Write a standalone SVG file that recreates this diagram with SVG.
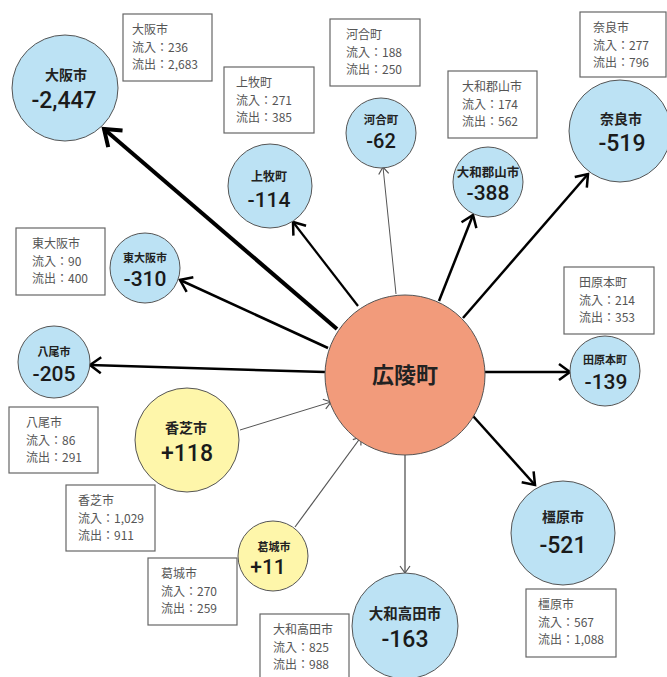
<svg xmlns="http://www.w3.org/2000/svg" width="667" height="677" viewBox="0 0 667 677">
<style>
.nb{fill:#BCE2F4;stroke:#555;stroke-width:1}
.ny{fill:#FEF6AA;stroke:#555;stroke-width:1}
.nc{fill:#F29B7B;stroke:#555;stroke-width:1}
text{font-family:"Noto Sans CJK JP","Noto Sans",sans-serif}
.nm{font-weight:bold;fill:#222;text-anchor:middle}
.nv{font-family:Roboto,"Noto Sans",sans-serif;font-weight:500;fill:#1a1a1a;text-anchor:middle}
.lb rect{fill:#fff;stroke:#666;stroke-width:1.2}
.lb text{font-size:12px;fill:#555}
.k{fill:none;stroke:#000}
.g{fill:none;stroke:#555}
</style>
<defs>
<marker id="mxl" markerUnits="userSpaceOnUse" markerWidth="40" markerHeight="40" refX="0" refY="0" orient="auto" overflow="visible" viewBox="-20 -20 40 40">
<path d="M-15,-11 L0,0 L-15,11" fill="none" stroke="#000" stroke-width="4"/>
</marker>
<marker id="ml" markerUnits="userSpaceOnUse" markerWidth="30" markerHeight="30" refX="0" refY="0" orient="auto" overflow="visible" viewBox="-15 -15 30 30">
<path d="M-11,-8 L0,0 L-11,8" fill="none" stroke="#000" stroke-width="2.5"/>
</marker>
<marker id="ms" markerUnits="userSpaceOnUse" markerWidth="20" markerHeight="20" refX="0" refY="0" orient="auto" overflow="visible" viewBox="-10 -10 20 20">
<path d="M-7,-5 L0,0 L-7,5" fill="none" stroke="#555" stroke-width="1.2"/>
</marker>
</defs>
<rect width="667" height="677" fill="#fff"/>
<g id="connectors">
<line class="k" x1="337" y1="329" x2="104" y2="129" stroke-width="4" marker-end="url(#mxl)"/>
<line class="k" x1="358" y1="306" x2="293" y2="222" stroke-width="2.2" marker-end="url(#ml)"/>
<line class="g" x1="396" y1="294" x2="383" y2="167" stroke-width="1" marker-end="url(#ms)"/>
<line class="k" x1="439" y1="301" x2="473" y2="215" stroke-width="2.5" marker-end="url(#ml)"/>
<line class="k" x1="463" y1="318" x2="588" y2="174" stroke-width="2.5" marker-end="url(#ml)"/>
<line class="k" x1="485" y1="372" x2="570" y2="372" stroke-width="2.5" marker-end="url(#ml)"/>
<line class="k" x1="473" y1="416" x2="535" y2="485" stroke-width="2.5" marker-end="url(#ml)"/>
<line class="g" x1="405" y1="455" x2="405" y2="573" stroke-width="1.3" marker-end="url(#ms)"/>
<line class="k" x1="328" y1="348" x2="180" y2="280" stroke-width="2.5" marker-end="url(#ml)"/>
<line class="k" x1="325" y1="372" x2="90" y2="365" stroke-width="2.5" marker-end="url(#ml)"/>
<line class="g" x1="240" y1="430" x2="331" y2="402" stroke-width="1" marker-end="url(#ms)"/>
<line class="g" x1="295" y1="527" x2="361" y2="437" stroke-width="1.2" marker-end="url(#ms)"/>
</g>
<g id="koryo">
<circle class="nc" cx="405" cy="375" r="80"/>
<text class="nm" x="405" y="383" font-size="22">広陵町</text>
</g>
<g id="osaka">
<circle class="nb" cx="65" cy="88" r="53"/>
<text class="nm" x="66" y="80" font-size="14">大阪市</text>
<text class="nv" x="64" y="108" font-size="23">-2,447</text>
</g>
<g id="kanmaki">
<circle class="nb" cx="270" cy="186" r="42"/>
<text class="nm" x="269" y="181" font-size="12">上牧町</text>
<text class="nv" x="269" y="207" font-size="21">-114</text>
</g>
<g id="kawai">
<circle class="nb" cx="381" cy="133" r="35"/>
<text class="nm" x="381" y="124" font-size="11.5">河合町</text>
<text class="nv" x="381" y="148" font-size="20">-62</text>
</g>
<g id="yamatokoriyama">
<circle class="nb" cx="488" cy="182" r="35"/>
<text class="nm" x="488" y="177" font-size="12.5">大和郡山市</text>
<text class="nv" x="488" y="200" font-size="21">-388</text>
</g>
<g id="nara">
<circle class="nb" cx="620" cy="131" r="51"/>
<text class="nm" x="621" y="124" font-size="14">奈良市</text>
<text class="nv" x="622" y="151" font-size="23">-519</text>
</g>
<g id="higashiosaka">
<circle class="nb" cx="145" cy="268" r="35"/>
<text class="nm" x="145" y="262" font-size="11">東大阪市</text>
<text class="nv" x="145" y="286" font-size="21">-310</text>
</g>
<g id="yao">
<circle class="nb" cx="54" cy="362" r="36"/>
<text class="nm" x="54" y="356" font-size="11">八尾市</text>
<text class="nv" x="54" y="381" font-size="21">-205</text>
</g>
<g id="kashiba">
<circle class="ny" cx="187" cy="440" r="52"/>
<text class="nm" x="186" y="433" font-size="14">香芝市</text>
<text class="nv" x="187" y="461" font-size="23">+118</text>
</g>
<g id="katsuragi">
<circle class="ny" cx="273" cy="556" r="35"/>
<text class="nm" x="274" y="551" font-size="11">葛城市</text>
<text class="nv" x="268" y="574" font-size="21">+11</text>
</g>
<g id="tawaramoto">
<circle class="nb" cx="605" cy="371" r="35"/>
<text class="nm" x="605" y="364" font-size="11">田原本町</text>
<text class="nv" x="606" y="389" font-size="21">-139</text>
</g>
<g id="kashihara">
<circle class="nb" cx="563" cy="533" r="52"/>
<text class="nm" x="563" y="522" font-size="14">橿原市</text>
<text class="nv" x="563" y="553" font-size="23">-521</text>
</g>
<g id="yamatotakada">
<circle class="nb" cx="405" cy="626" r="53"/>
<text class="nm" x="405" y="619" font-size="14.5">大和高田市</text>
<text class="nv" x="405" y="647" font-size="23">-163</text>
</g>
<g id="lb-osaka" class="lb"><rect x="123" y="14" width="89" height="67"/><text x="132" y="34">大阪市</text><text x="132" y="52">流入：236</text><text x="132" y="69">流出：2,683</text></g>
<g id="lb-kanmaki" class="lb"><rect x="224" y="67" width="90" height="66"/><text x="236" y="87">上牧町</text><text x="236" y="105">流入：271</text><text x="236" y="122">流出：385</text></g>
<g id="lb-kawai" class="lb"><rect x="330" y="19" width="90" height="67"/><text x="346" y="39">河合町</text><text x="346" y="57">流入：188</text><text x="346" y="74">流出：250</text></g>
<g id="lb-yamatokoriyama" class="lb"><rect x="448" y="71" width="89" height="67"/><text x="462" y="91">大和郡山市</text><text x="462" y="109">流入：174</text><text x="462" y="126">流出：562</text></g>
<g id="lb-nara" class="lb"><rect x="580" y="12" width="86" height="65"/><text x="593" y="32">奈良市</text><text x="593" y="50">流入：277</text><text x="593" y="67">流出：796</text></g>
<g id="lb-higashiosaka" class="lb"><rect x="16" y="228" width="89" height="67"/><text x="32" y="248">東大阪市</text><text x="32" y="266">流入：90</text><text x="32" y="283">流出：400</text></g>
<g id="lb-yao" class="lb"><rect x="9" y="407" width="89" height="66"/><text x="26" y="427">八尾市</text><text x="26" y="445">流入：86</text><text x="26" y="462">流出：291</text></g>
<g id="lb-kashiba" class="lb"><rect x="66" y="485" width="89" height="66"/><text x="78" y="505">香芝市</text><text x="78" y="523">流入：1,029</text><text x="78" y="540">流出：911</text></g>
<g id="lb-katsuragi" class="lb"><rect x="148" y="558" width="89" height="67"/><text x="161" y="578">葛城市</text><text x="161" y="596">流入：270</text><text x="161" y="613">流出：259</text></g>
<g id="lb-yamatotakada" class="lb"><rect x="260" y="614" width="89" height="70"/><text x="273" y="634">大和高田市</text><text x="273" y="652">流入：825</text><text x="273" y="669">流出：988</text></g>
<g id="lb-kashihara" class="lb"><rect x="526" y="589" width="90" height="68"/><text x="538" y="609">橿原市</text><text x="538" y="627">流入：567</text><text x="538" y="644">流出：1,088</text></g>
<g id="lb-tawaramoto" class="lb"><rect x="564" y="267" width="90" height="67"/><text x="579" y="287">田原本町</text><text x="579" y="305">流入：214</text><text x="579" y="322">流出：353</text></g>
</svg>
